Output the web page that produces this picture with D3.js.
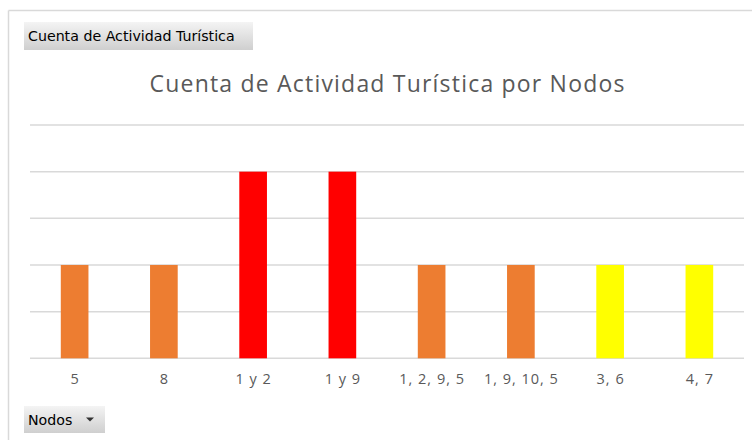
<!DOCTYPE html>
<html><head><meta charset="utf-8">
<script src="https://cdn.jsdelivr.net/npm/d3@7"></script>
<style>html,body{margin:0;padding:0;background:#fff;}svg{display:block;}</style>
</head><body>
<svg id="c" width="752" height="440"></svg>
<script>
const categories = ["5", "8", "1 y 2", "1 y 9", "1, 2, 9, 5", "1, 9, 10, 5", "3, 6", "4, 7"];
const values = [2, 2, 4, 4, 2, 2, 2, 2];
const barColors = ["#ED7D31", "#ED7D31", "#FF0000", "#FF0000", "#ED7D31", "#ED7D31", "#FFFF00", "#FFFF00"];
const yTicks = [0, 1, 2, 3, 4, 5];
const titleText = "Cuenta de Actividad Turística por Nodos";
const valueButton = "Cuenta de Actividad Turística";
const axisButton = "Nodos";

const svg = d3.select("#c");
const defs = svg.append("defs");
const g = defs.append("linearGradient").attr("id","btn").attr("x1",0).attr("y1",0).attr("x2",0).attr("y2",1);
g.append("stop").attr("offset","0%").attr("stop-color","#f4f4f4");
g.append("stop").attr("offset","100%").attr("stop-color","#cfcfcf");

svg.append("line").attr("x1",8.5).attr("x2",752).attr("y1",10.5).attr("y2",10.5).attr("stroke","#d9d9d9").attr("stroke-width",1.5);
svg.append("line").attr("x1",8.5).attr("x2",8.5).attr("y1",10.5).attr("y2",440).attr("stroke","#d9d9d9").attr("stroke-width",1.5);

function button(x,y,w,h,label,arrow){
  svg.append("rect").attr("x",x).attr("y",y).attr("width",w).attr("height",h).attr("fill","url(#btn)");
  svg.append("text").attr("x",x+4).attr("y",y+h/2+5).attr("font-family","DejaVu Sans, Verdana, sans-serif")
    .attr("font-size",14.2).attr("fill","#000").text(label);
  if(arrow){
    svg.append("path").attr("d",`M${x+w-19},${y+h/2-2} l8,0 l-4,4 z`).attr("fill","#333");
  }
}
button(24,22,229,28,valueButton,false);
button(24,406,81,27,axisButton,true);

svg.append("text").attr("x",387.6).attr("y",92).attr("text-anchor","middle")
  .attr("font-family","Open Sans, Noto Sans, sans-serif").attr("font-size",23)
  .attr("letter-spacing",1.2)
  .attr("fill","#595959").text(titleText);

const x = d3.scaleBand().domain(categories).range([30,744]).paddingInner(0.69).paddingOuter(0.345);
const y = d3.scaleLinear().domain([0,5]).range([358.3,125]);

svg.append("g").selectAll("line").data(yTicks).join("line")
  .attr("x1",30).attr("x2",744).attr("y1",d=>y(d)).attr("y2",d=>y(d))
  .attr("stroke","#d9d9d9").attr("stroke-width",1.5);

svg.append("g").selectAll("rect").data(values).join("rect")
  .attr("x",(d,i)=>x(categories[i])).attr("width",x.bandwidth())
  .attr("y",d=>y(d)).attr("height",d=>y(0)-y(d)).attr("fill",(d,i)=>barColors[i]);

const ax = svg.append("g").attr("transform",`translate(0.5,${y(0)})`).call(d3.axisBottom(x).tickSize(0).tickPadding(15));
ax.select(".domain").remove();
ax.selectAll("text").attr("font-family","Open Sans, Noto Sans, sans-serif").attr("font-size",14.5)
  .attr("letter-spacing",1).attr("fill","#595959");
</script>
</body></html>
